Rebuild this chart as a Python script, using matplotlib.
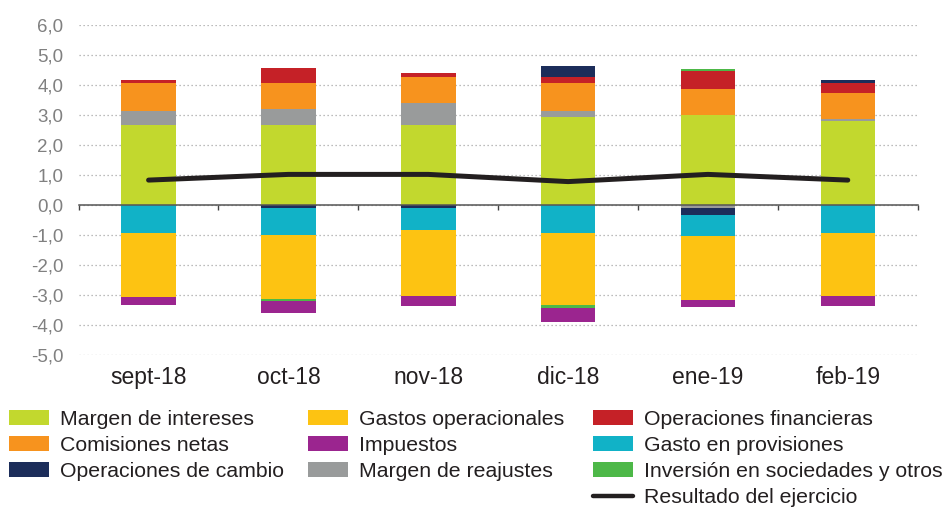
import numpy as np
import matplotlib
matplotlib.use('Agg')
import matplotlib.pyplot as plt
from matplotlib.patches import Patch
from matplotlib.lines import Line2D

plt.rcParams['font.family'] = ['Liberation Sans', 'DejaVu Sans']

# datos (puntos porcentuales)
meses = ['sept-18', 'oct-18', 'nov-18', 'dic-18', 'ene-19', 'feb-19']
margen_intereses = [2.69, 2.69, 2.69, 2.93, 3.00, 2.81]
margen_reajustes = [0.46, 0.53, 0.71, 0.22, -0.10, 0.06]
comisiones_netas = [0.92, 0.85, 0.89, 0.92, 0.89, 0.88]
op_financieras = [0.11, 0.52, 0.12, 0.22, 0.58, 0.32]
op_cambio = [0.00, -0.09, -0.09, 0.36, -0.21, 0.11]
inversion_soc = [0.00, -0.07, 0.00, -0.11, 0.06, 0.00]
gasto_provisiones = [-0.92, -0.90, -0.72, -0.92, -0.72, -0.92]
gastos_operacionales = [-2.15, -2.12, -2.20, -2.40, -2.13, -2.09]
impuestos = [-0.24, -0.42, -0.36, -0.47, -0.24, -0.36]
resultado = [0.84, 1.03, 1.03, 0.79, 1.03, 0.84]

colores = {
    'Margen de intereses': '#c2d82e',
    'Gastos operacionales': '#fdc312',
    'Operaciones financieras': '#c52127',
    'Comisiones netas': '#f7931e',
    'Impuestos': '#9b258f',
    'Gasto en provisiones': '#11b2c7',
    'Operaciones de cambio': '#1c2d5a',
    'Margen de reajustes': '#999b9b',
    'Inversión en sociedades y otros': '#4db848',
}

series = {
    'Margen de intereses': margen_intereses,
    'Margen de reajustes': margen_reajustes,
    'Comisiones netas': comisiones_netas,
    'Operaciones financieras': op_financieras,
    'Operaciones de cambio': op_cambio,
    'Inversión en sociedades y otros': inversion_soc,
    'Gasto en provisiones': gasto_provisiones,
    'Gastos operacionales': gastos_operacionales,
    'Impuestos': impuestos,
}

# orden de apilado hacia arriba y hacia abajo
orden_pos = ['Margen de intereses', 'Margen de reajustes', 'Comisiones netas',
             'Operaciones financieras', 'Operaciones de cambio',
             'Inversión en sociedades y otros']
orden_neg = ['Margen de reajustes', 'Operaciones de cambio', 'Gasto en provisiones',
             'Gastos operacionales', 'Inversión en sociedades y otros', 'Impuestos']

fig = plt.figure(figsize=(9.5, 5.08), dpi=100)
ax = fig.add_axes([0.0828, 0.3006, 0.8832, 0.6496])

x = np.arange(len(meses))
ancho = 0.39

base = np.zeros(len(meses))
for nombre in orden_pos:
    v = np.clip(np.array(series[nombre]), 0, None)
    ax.bar(x, v, ancho, bottom=base, color=colores[nombre], linewidth=0, zorder=2)
    base += v

base = np.zeros(len(meses))
for nombre in orden_neg:
    v = np.clip(np.array(series[nombre]), None, 0)
    ax.bar(x, v, ancho, bottom=base, color=colores[nombre], linewidth=0, zorder=2)
    base += v

ax.plot(x, resultado, color='#231f20', lw=3.6, solid_capstyle='round',
        solid_joinstyle='round', zorder=4)

# ejes
ax.set_xlim(-0.5, len(meses) - 0.5)
ax.set_ylim(-5, 6)
yt = np.arange(-5, 7)
ax.set_yticks(yt)
ax.set_yticklabels([f'{v:.1f}'.replace('.', ',') for v in yt])
ax.tick_params(axis='y', length=0, pad=11, labelsize=13.5, labelcolor='#808080')
ax.yaxis.grid(True, linestyle=(0, (1, 2.2)), color='#a6a6a6', linewidth=0.9)
ax.set_axisbelow(True)

for s in ['top', 'right', 'left']:
    ax.spines[s].set_visible(False)
ax.spines['bottom'].set_position(('data', 0))
ax.spines['bottom'].set_color('#555555')
ax.spines['bottom'].set_linewidth(1.1)
ax.spines['bottom'].set_zorder(3)
ax.set_xticks(np.arange(-0.5, len(meses) + 0.5, 1))
ax.set_xticklabels([])
ax.tick_params(axis='x', direction='out', length=3.5, width=1, color='#444444')

sec = ax.secondary_xaxis(0)
sec.set_xticks(x)
sec.set_xticklabels(meses)
sec.tick_params(length=0, pad=8, labelsize=16.5, labelcolor='#231f20')
sec.spines['bottom'].set_visible(False)

# leyenda en tres columnas
columnas = [
    ['Margen de intereses', 'Comisiones netas', 'Operaciones de cambio'],
    ['Gastos operacionales', 'Impuestos', 'Margen de reajustes'],
    ['Operaciones financieras', 'Gasto en provisiones', 'Inversión en sociedades y otros'],
]
xs_col = [0.0095, 0.324, 0.624]
for i, col in enumerate(columnas):
    handles = [Patch(facecolor=colores[n], edgecolor='none') for n in col]
    labels = list(col)
    if i == 2:
        handles.append(Line2D([0], [0], color='#231f20', lw=3.2, solid_capstyle='round'))
        labels.append('Resultado del ejercicio')
    fig.legend(handles, labels, loc='upper left', bbox_to_anchor=(xs_col[i], 0.193),
               bbox_transform=fig.transFigure, frameon=False, fontsize=15.3,
               handlelength=1.9, handleheight=0.7, handletextpad=0.5,
               labelspacing=0.33, borderpad=0, borderaxespad=0,
               labelcolor='#231f20')

fig.savefig('out.png', dpi=100)
